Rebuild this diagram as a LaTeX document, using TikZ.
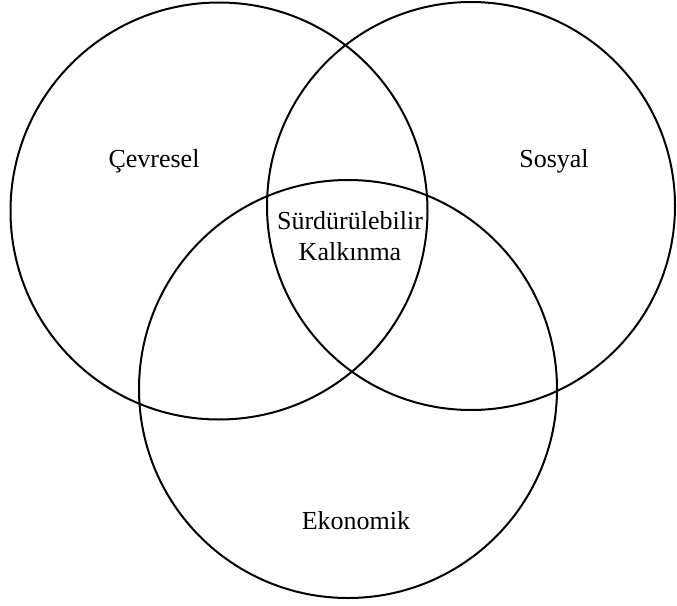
\documentclass[tikz,border=0pt]{standalone}
\usepackage{fontspec}
\setmainfont{Liberation Serif}
\usepackage{tikz}

\begin{document}
\begin{tikzpicture}[x=1pt,y=-1pt,font=\fontsize{26}{31}\selectfont]
\useasboundingbox (0,0) rectangle (677,605);

\draw [line width=2pt] (219,211) circle [radius=208.5] ;
\draw [line width=2pt] (471,206) circle [radius=204] ;
\draw [line width=2pt] (348,389) circle [radius=209] ;

\node [anchor=base] (cevre) at (154,167) {Çevresel};
\node [anchor=base] (sosyal) at (554,167) {Sosyal};
\node [anchor=base,align=center] (surdur) at (350,260) {Sürdürülebilir\\Kalkınma};
\node [anchor=base] (ekonomi) at (356,529) {Ekonomik};
\end{tikzpicture}
\end{document}
